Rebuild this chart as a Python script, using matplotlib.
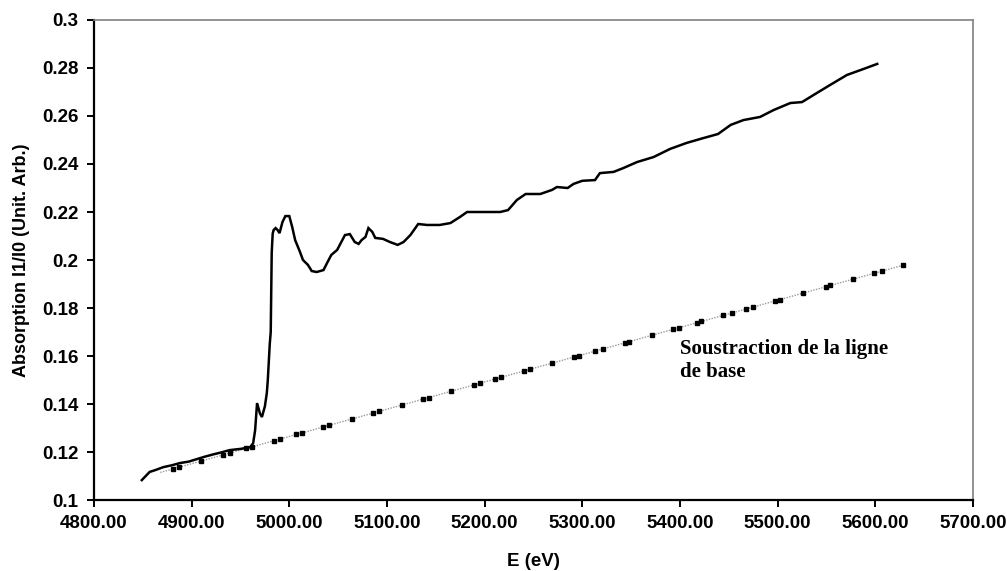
"""
XANES spectrum with the linear baseline used for the background subtraction.
Writes: out.png
"""
import numpy as np
import matplotlib.pyplot as plt
from matplotlib.ticker import FuncFormatter, MultipleLocator

TEXT = "#000000"
FRAME = "#808080"
BASE_GREY = "#9a9a9a"

plt.rcParams.update({
    "font.family": ["Liberation Sans", "DejaVu Sans"],
    "font.weight": "bold",
    "figure.facecolor": "white",
    "axes.facecolor": "white",
})

# measured spectrum (E in eV, absorption I1/I0)
energy = [
    4849, 4853, 4857, 4863, 4871, 4880, 4888, 4897, 4905, 4913, 4922, 4930,
    4939, 4950, 4960, 4963, 4965, 4967, 4970, 4972, 4975, 4977, 4978, 4980,
    4981, 4982, 4983, 4984, 4986, 4988, 4990, 4993, 4996, 5000, 5003, 5006,
    5011, 5014, 5019, 5023, 5028, 5035, 5039, 5043, 5049, 5057, 5062, 5067,
    5071, 5074, 5078, 5081, 5085, 5088, 5096, 5103, 5111, 5117, 5124, 5132,
    5141, 5154, 5165, 5175, 5182, 5192, 5216, 5224, 5233, 5242, 5257, 5269,
    5274, 5285, 5291, 5300, 5313, 5318, 5332, 5342, 5356, 5373, 5390, 5407,
    5424, 5439, 5452, 5465, 5482, 5496, 5513, 5525, 5537, 5554, 5571, 5588,
    5602,
]
absorption = [
    0.1083, 0.1100, 0.1117, 0.1125, 0.1137, 0.1145, 0.1154, 0.1160, 0.1170, 0.1180, 0.1190, 0.1198,
    0.1208, 0.1213, 0.1220, 0.1237, 0.1290, 0.1404, 0.1360, 0.1346, 0.1390, 0.1446, 0.1500, 0.1650,
    0.1700, 0.2030, 0.2110, 0.2125, 0.2133, 0.2125, 0.2112, 0.2158, 0.2183, 0.2183, 0.2137, 0.2083,
    0.2033, 0.2000, 0.1980, 0.1954, 0.1950, 0.1958, 0.1990, 0.2021, 0.2042, 0.2104, 0.2108, 0.2075,
    0.2067, 0.2083, 0.2096, 0.2133, 0.2117, 0.2092, 0.2088, 0.2075, 0.2063, 0.2075, 0.2104, 0.2150,
    0.2146, 0.2146, 0.2154, 0.2180, 0.2200, 0.2200, 0.2200, 0.2208, 0.2250, 0.2275, 0.2275, 0.2292,
    0.2304, 0.2300, 0.2317, 0.2330, 0.2333, 0.2362, 0.2367, 0.2383, 0.2408, 0.2429, 0.2463, 0.2488,
    0.2508, 0.2525, 0.2563, 0.2583, 0.2596, 0.2625, 0.2654, 0.2658, 0.2688, 0.2730, 0.2771, 0.2796,
    0.2817,
]

# baseline: end points of the dotted line and the square markers on it
base_line_e = [4868, 5630]
base_line_y = [0.1115, 0.1980]
base_e = [
    4881, 4887, 4910, 4932, 4939, 4956, 4962, 4984, 4990, 5007, 5013, 5035,
    5041, 5064, 5086, 5092, 5115, 5137, 5143, 5166, 5189, 5195, 5211, 5217,
    5240, 5246, 5269, 5291, 5297, 5313, 5321, 5344, 5348, 5371, 5393, 5399,
    5417, 5422, 5444, 5453, 5468, 5475, 5497, 5502, 5526, 5550, 5554, 5577,
    5599, 5607, 5628,
]
base_y = [
    0.1130, 0.1137, 0.1163, 0.1188, 0.1196, 0.1215, 0.1222, 0.1247, 0.1253, 0.1273, 0.1280, 0.1305,
    0.1311, 0.1338, 0.1362, 0.1369, 0.1395, 0.1420, 0.1427, 0.1453, 0.1479, 0.1486, 0.1504, 0.1511,
    0.1537, 0.1544, 0.1570, 0.1595, 0.1602, 0.1620, 0.1629, 0.1655, 0.1660, 0.1686, 0.1711, 0.1718,
    0.1738, 0.1744, 0.1769, 0.1779, 0.1796, 0.1804, 0.1829, 0.1835, 0.1862, 0.1889, 0.1894, 0.1920,
    0.1945, 0.1954, 0.1978,
]


def plot_spectrum():
    fig = plt.figure(figsize=(10.07, 5.71), dpi=100)
    ax = fig.add_axes([0.0933, 0.1243, 0.8729, 0.8407])

    ax.plot(base_line_e, base_line_y, color=BASE_GREY, lw=1.0, ls=(0, (1, 1)))
    ax.plot(base_e, base_y, ls="none", marker="s", ms=2.6, color=TEXT, mec=TEXT)
    ax.plot(energy, absorption, color=TEXT, lw=1.8, solid_joinstyle="miter")

    ax.set_xlim(4800, 5700)
    ax.set_ylim(0.1, 0.3)
    ax.xaxis.set_major_locator(MultipleLocator(100))
    ax.yaxis.set_major_locator(MultipleLocator(0.02))
    ax.xaxis.set_major_formatter(FuncFormatter(lambda v, p: f"{v:.2f}"))
    ax.yaxis.set_major_formatter(FuncFormatter(lambda v, p: f"{v:.2f}".rstrip("0").rstrip(".")))

    for side in ["left", "bottom"]:
        ax.spines[side].set_color(TEXT)
        ax.spines[side].set_linewidth(1.6)
    for side in ["top", "right"]:
        ax.spines[side].set_color(FRAME)
        ax.spines[side].set_linewidth(1.2)

    ax.tick_params(direction="out", length=5, width=1.4, colors=TEXT, labelsize=13.5, pad=6)
    for lab in ax.get_xticklabels() + ax.get_yticklabels():
        lab.set_fontweight("bold")

    ax.set_xlabel("E (eV)", fontsize=13.5, fontweight="bold", labelpad=15)
    ax.set_ylabel("Absorption I1/I0 (Unit. Arb.)", fontsize=13, fontweight="bold", labelpad=9)

    ax.text(5400, 0.1672, "Soustraction de la ligne\nde base", fontsize=15, fontweight="bold",
            family=["Liberation Serif", "DejaVu Serif"], ha="left", va="top", linespacing=1.2)

    fig.savefig("out.png", dpi=100)
    plt.close(fig)


if __name__ == "__main__":
    plot_spectrum()
